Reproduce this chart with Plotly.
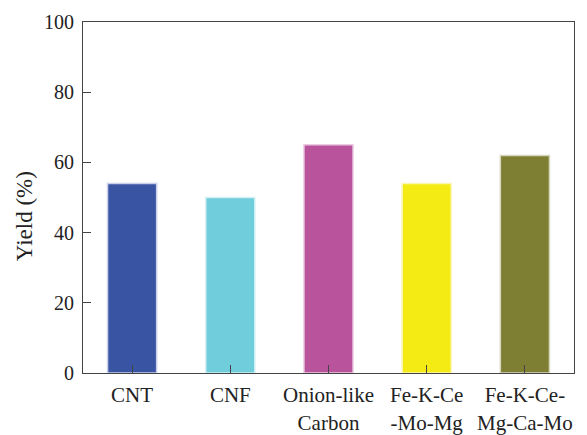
import plotly.graph_objects as go

categories = ["CNT", "CNF", "Onion-like<br>Carbon", "Fe-K-Ce<br>-Mo-Mg", "Fe-K-Ce-<br>Mg-Ca-Mo"]
yields = [54, 50, 65, 54, 62]
bar_colors = ["#3A54A4", "#6FCDDC", "#B8539C", "#F5EB14", "#7F7F33"]
edge_colors = ["#C9D0E8", "#D4F0F4", "#EBCBE2", "#FBF6B8", "#D6D6BE"]
y_ticks = [0, 20, 40, 60, 80, 100]

font = "Times New Roman"

fig = go.Figure(go.Bar(
    x=categories, y=yields, width=0.5,
    marker=dict(color=bar_colors, line=dict(color=edge_colors, width=1.5)),
))

fig.update_layout(
    width=587, height=435,
    margin=dict(l=83, r=13, t=22, b=62),
    paper_bgcolor="white", plot_bgcolor="white",
    font=dict(family=font, size=20, color="#222"),
    showlegend=False,
    bargap=0.5,
)
fig.update_xaxes(
    showline=True, linecolor="#444", linewidth=1, mirror=True,
    ticks="inside", ticklen=8, tickcolor="#444", tickwidth=1,
    tickfont=dict(family=font, size=21, color="#222"),
    showgrid=False, automargin=False,
    ticklabelstandoff=3,
)
fig.update_yaxes(
    range=[0, 100], tickvals=y_ticks,
    showline=True, linecolor="#444", linewidth=1, mirror=True,
    ticks="inside", ticklen=8, tickcolor="#444", tickwidth=1,
    tickfont=dict(family=font, size=20, color="#222"),
    showgrid=False, zeroline=False, automargin=False,
    ticklabelstandoff=4,
)
fig.add_annotation(
    text="Yield (%)", textangle=-90, showarrow=False,
    xref="paper", yref="paper", x=-0.12, y=0.447,
    xanchor="center", yanchor="middle",
    font=dict(family=font, size=23, color="#222"),
)
fig.write_html("out.html")
